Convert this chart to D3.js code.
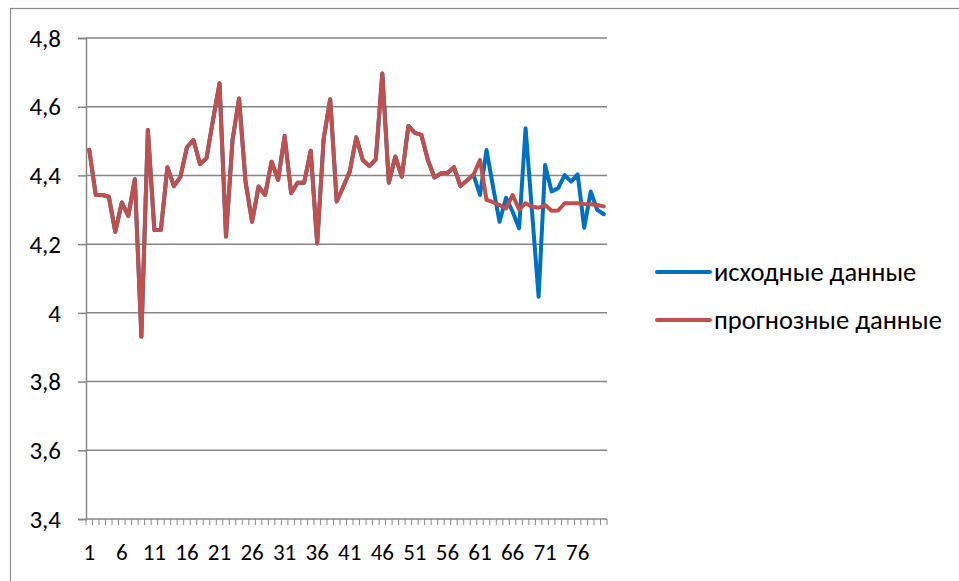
<!DOCTYPE html>
<html>
<head>
<meta charset="utf-8">
<script src="https://cdn.jsdelivr.net/npm/d3@7"></script>
<style>
  html, body { margin: 0; padding: 0; background: #fff; }
  svg { display: block; }
  text { font-family: Carlito, "Open Sans", "Noto Sans", sans-serif; fill: #000; }
</style>
</head>
<body>
<svg id="chart" width="959" height="581"></svg>
<script>
// Observations 1..80
const categories = d3.range(1, 81);

// Forecast series (прогнозные данные)
const forecast = [
  4.475, 4.343, 4.343, 4.338, 4.236, 4.321, 4.282, 4.389, 3.931, 4.532,
  4.241, 4.241, 4.424, 4.369, 4.396, 4.482, 4.503, 4.433, 4.450, 4.561,
  4.668, 4.222, 4.503, 4.624, 4.382, 4.265, 4.368, 4.343, 4.440, 4.387,
  4.515, 4.348, 4.379, 4.379, 4.472, 4.202, 4.508, 4.622, 4.324, 4.367,
  4.411, 4.511, 4.445, 4.427, 4.447, 4.697, 4.379, 4.455, 4.396, 4.544,
  4.524, 4.518, 4.445, 4.394, 4.406, 4.407, 4.424, 4.369, 4.385, 4.402,
  4.445, 4.329, 4.322, 4.314, 4.304, 4.343, 4.301, 4.319, 4.309, 4.306,
  4.314, 4.297, 4.298, 4.319, 4.319, 4.319, 4.317, 4.316, 4.314, 4.310
];

// Source series (исходные данные); coincides with the forecast up to obs. 60
const source = forecast.slice(0, 60).concat([
  4.343, 4.474, 4.367, 4.265, 4.335, 4.295, 4.246, 4.537, 4.292, 4.047,
  4.430, 4.353, 4.363, 4.401, 4.382, 4.403, 4.248, 4.353, 4.300, 4.287
]);

const yTicks = [3.4, 3.6, 3.8, 4.0, 4.2, 4.4, 4.6, 4.8];
const xTickLabels = [1, 6, 11, 16, 21, 26, 31, 36, 41, 46, 51, 56, 61, 66, 71, 76];

const seriesNames = ["исходные данные", "прогнозные данные"];
const seriesColors = ["#0070C0", "#C0504D"];

const svg = d3.select("#chart");
const plot = { left: 86, right: 607, top: 38, bottom: 519 };

// Outer chart frame
svg.append("rect")
  .attr("x", 10.5).attr("y", 8.5)
  .attr("width", 960).attr("height", 600)
  .attr("fill", "none").attr("stroke", "#8c8c8c").attr("stroke-width", 1.2);

const x = d3.scaleBand().domain(categories).range([plot.left, plot.right]).padding(0);
const y = d3.scaleLinear().domain([3.4, 4.8]).range([plot.bottom, plot.top]);

// Horizontal gridlines
svg.append("g").selectAll("line")
  .data(yTicks.filter(d => d > 3.4))
  .join("line")
  .attr("x1", plot.left).attr("x2", plot.right)
  .attr("y1", d => y(d)).attr("y2", d => y(d))
  .attr("stroke", "#868686").attr("stroke-width", 1.5);

// Y axis
const yAxis = svg.append("g")
  .attr("transform", `translate(${plot.left},0)`)
  .call(d3.axisLeft(y).tickValues(yTicks).tickSize(8).tickPadding(17)
    .tickFormat(d => d3.format(".1f")(d).replace(".", ",").replace(/^(\d),0$/, "$1")));
yAxis.select(".domain").attr("stroke", "#868686").attr("stroke-width", 1.5);
yAxis.selectAll(".tick line").attr("stroke", "#868686").attr("stroke-width", 1.5);
yAxis.selectAll(".tick text").attr("font-size", 25).attr("fill", "#000").attr("dy", "0.33em");

// X axis: minor tick at every category boundary
const xAxisG = svg.append("g");
xAxisG.append("line")
  .attr("x1", plot.left).attr("x2", plot.right)
  .attr("y1", plot.bottom).attr("y2", plot.bottom)
  .attr("stroke", "#868686").attr("stroke-width", 1.5);
xAxisG.selectAll("line.minor")
  .data(categories.concat([81]))
  .join("line").attr("class", "minor")
  .attr("x1", d => d <= 80 ? x(d) : plot.right)
  .attr("x2", d => d <= 80 ? x(d) : plot.right)
  .attr("y1", plot.bottom).attr("y2", plot.bottom + 6)
  .attr("stroke", "#868686").attr("stroke-width", 1);
xAxisG.selectAll("text")
  .data(xTickLabels)
  .join("text")
  .attr("x", d => x(d) + x.bandwidth() / 2)
  .attr("y", 560)
  .attr("text-anchor", "middle")
  .attr("font-size", 23)
  .text(d => d);

// Series lines
const line = d3.line()
  .x((d, i) => x(categories[i]) + x.bandwidth() / 2)
  .y(d => y(d));

[source, forecast].forEach((s, k) => {
  svg.append("path")
    .datum(s)
    .attr("d", line)
    .attr("fill", "none")
    .attr("stroke", seriesColors[k])
    .attr("stroke-width", 4)
    .attr("stroke-linejoin", "round")
    .attr("stroke-linecap", "round");
});

// Legend
const legend = svg.append("g");
seriesNames.forEach((name, k) => {
  const ly = 272 + k * 48;
  legend.append("line")
    .attr("x1", 657).attr("x2", 710)
    .attr("y1", ly).attr("y2", ly)
    .attr("stroke", seriesColors[k]).attr("stroke-width", 4)
    .attr("stroke-linecap", "round");
  legend.append("text")
    .attr("x", 714).attr("y", ly + 9)
    .attr("font-size", 26.5)
    .text(name);
});
</script>
</body>
</html>
